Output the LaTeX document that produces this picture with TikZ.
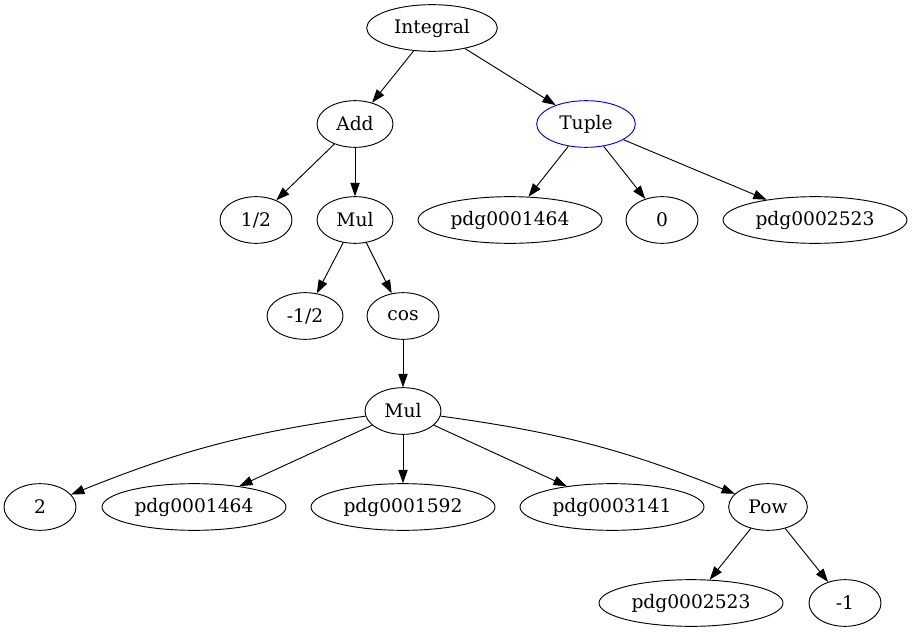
\documentclass[tikz,border=0pt]{standalone}
\usepackage{fontspec}
\setmainfont{DejaVu Serif}
\usetikzlibrary{arrows.meta,shapes.geometric}
\definecolor{TupBlue}{RGB}{0,0,255}
\begin{document}
\begin{tikzpicture}[x=0.75pt,y=-0.75pt,line width=0.7pt,>={Triangle[length=10pt,width=7pt]},
  tn/.style={draw,ellipse,minimum width=54pt,minimum height=35pt,inner xsep=0pt,inner ysep=0pt,font=\fontsize{14}{16}\selectfont},
  mid/.style={minimum width=57pt},wide/.style={minimum width=138pt}]
\useasboundingbox (0,0) rectangle (914,635);
% level 0-1
\node[tn,minimum width=98pt] (integral) at (432,28) {Integral};
\node[tn,mid] (add) at (355,124) {Add};\node[tn,draw=TupBlue,minimum width=74pt] (tuple) at (586,124) {Tuple};
% level 2
\node[tn] (half) at (256,220) {1/2};\node[tn,mid] (mula) at (355,220) {Mul};
\node[tn,wide] (pdgA) at (510,220) {pdg0001464};\node[tn] (zero) at (662,220) {0};\node[tn,wide] (pdgB) at (815,220) {pdg0002523};
% level 3-4
\node[tn,mid] (mhalf) at (305,316) {-1/2};\node[tn] (cos) at (403,316) {cos};
\node[tn,mid] (mulb) at (403,411) {Mul};
% level 5
\node[tn] (two) at (40,507) {2};\node[tn,wide] (pdgC) at (194,507) {pdg0001464};\node[tn,wide] (pdgD) at (403,507) {pdg0001592};
\node[tn,wide] (pdgE) at (612,507) {pdg0003141};\node[tn,minimum width=59pt] (pow) at (768,507) {Pow};
% level 6
\node[tn,wide] (pdgF) at (691,603) {pdg0002523};\node[tn] (mone) at (845,603) {-1};
% edges
\draw[->] (integral)--(add);\draw[->] (integral)--(tuple);
\draw[->] (add)--(half);\draw[->] (add)--(mula);
\draw[->] (tuple)--(pdgA);\draw[->] (tuple)--(zero);\draw[->] (tuple)--(pdgB);
\draw[->] (mula)--(mhalf);\draw[->] (mula)--(cos);\draw[->] (cos)--(mulb);
\draw[->] (mulb) to[bend right=7] (two);\draw[->] (mulb)--(pdgC);\draw[->] (mulb)--(pdgD);
\draw[->] (mulb)--(pdgE);\draw[->] (mulb) to[bend left=7] (pow);
\draw[->] (pow)--(pdgF);\draw[->] (pow)--(mone);
\end{tikzpicture}
\end{document}
